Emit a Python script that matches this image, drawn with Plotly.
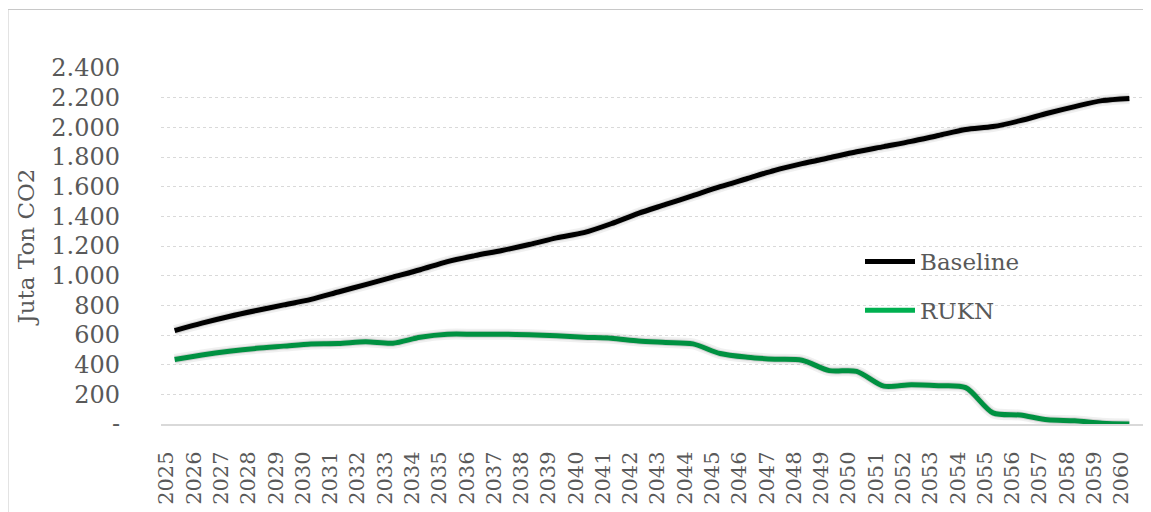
import plotly.graph_objects as go

years = [str(y) for y in range(2025, 2061)]
baseline = [630, 680, 725, 765, 803, 840, 890, 940, 990, 1040,
            1095, 1135, 1170, 1210, 1255, 1290, 1350, 1420, 1480, 1540,
            1600, 1655, 1710, 1755, 1795, 1835, 1870, 1905, 1945, 1985,
            2005, 2045, 2095, 2140, 2180, 2195]
rukn = [435, 465, 490, 510, 525, 540, 542, 555, 545, 585,
        605, 605, 605, 602, 595, 585, 578, 560, 550, 540,
        475, 450, 437, 430, 360, 355, 255, 265, 258, 245,
        75, 60, 28, 22, 5, 0]
y_tickvals = list(range(0, 2401, 200))
y_ticktext = ["-", "200", "400", "600", "800", "1.000", "1.200", "1.400",
              "1.600", "1.800", "2.000", "2.200", "2.400"]

PAGE = 8  # browser body margin
W, H = 1151 - PAGE, 512 - PAGE
SX, SY = 3, 4  # shadow offset px
# target plot area on screen: x 161..1143, y 68..424
L = 161 - PAGE
T = 68 - PAGE
R = W - (1143 - PAGE) - SX
B = H - (424 - PAGE) - SY
pw, ph = W - L - R, H - T - B
FONT = "DejaVu Serif"
GREY = "#595959"
dx, dy = SX / pw, SY / ph

fig = go.Figure()

for col_w, alpha in [(11, 0.06), (7, 0.12)]:
    for vals in (baseline, rukn):
        fig.add_trace(go.Scatter(x=years, y=vals, mode="lines",
                                 line=dict(color=f"rgba(0,0,0,{alpha})", width=col_w, shape="spline", smoothing=0.8),
                                 xaxis="x2", yaxis="y2", showlegend=False, hoverinfo="skip"))

fig.add_trace(go.Scatter(x=years, y=baseline, mode="lines", name="Baseline",
                         line=dict(color="#000000", width=5, shape="spline", smoothing=0.8),
                         legendgroup="a"))
fig.add_trace(go.Scatter(x=years, y=rukn, mode="lines", name="RUKN",
                         line=dict(color="#00B050", width=5, shape="spline", smoothing=0.8),
                         legendgroup="b"))

fig.update_layout(
    width=W, height=H,
    margin=dict(l=L, r=R, t=T, b=B),
    paper_bgcolor="white", plot_bgcolor="white",
    font=dict(family=FONT, color=GREY, size=22),
    xaxis=dict(type="category", range=[-0.5, 35.5], tickangle=-90,
               showgrid=False, showline=True, linecolor="#D9D9D9", linewidth=2,
               ticks="", tickfont=dict(size=21, color=GREY, family=FONT),
               ticklabelstandoff=17, ticklabelshift=-8, domain=[0, 1 - dx]),
    yaxis=dict(range=[0, 2400], tickvals=y_tickvals, ticktext=y_ticktext,
               showgrid=True, gridcolor="#D9D9D9", griddash="dot", gridwidth=1,
               zeroline=False, showline=False, ticks="",
               tickfont=dict(size=24, color=GREY, family=FONT),
               ticklabelstandoff=40,
               title=dict(text="Juta Ton CO2", font=dict(size=23, color=GREY, family=FONT), standoff=10),
               domain=[dy, 1]),
    xaxis2=dict(type="category", range=[-0.5, 35.5], overlaying="x", visible=False,
                domain=[dx, 1], anchor="y2"),
    yaxis2=dict(range=[0, 2400], overlaying="y", visible=False,
                domain=[0, 1 - dy], anchor="x2"),
    legend=dict(x=(860 - 161) / pw, y=(424 + SY - 240) / ph, xanchor="left", yanchor="top",
                bgcolor="rgba(0,0,0,0)", font=dict(size=23, color=GREY, family=FONT),
                tracegroupgap=16, itemwidth=50),
    showlegend=True,
    shapes=[dict(type="rect", xref="paper", yref="paper",
                 x0=(8 - 161) / pw, x1=(1160 - 161) / pw,
                 y0=-(530 - 424 - SY) / ph, y1=(424 + SY - 9.5) / ph,
                 line=dict(color="#C8C8C8", width=1), fillcolor="rgba(0,0,0,0)", layer="below")],
)

fig.write_html("out.html")
